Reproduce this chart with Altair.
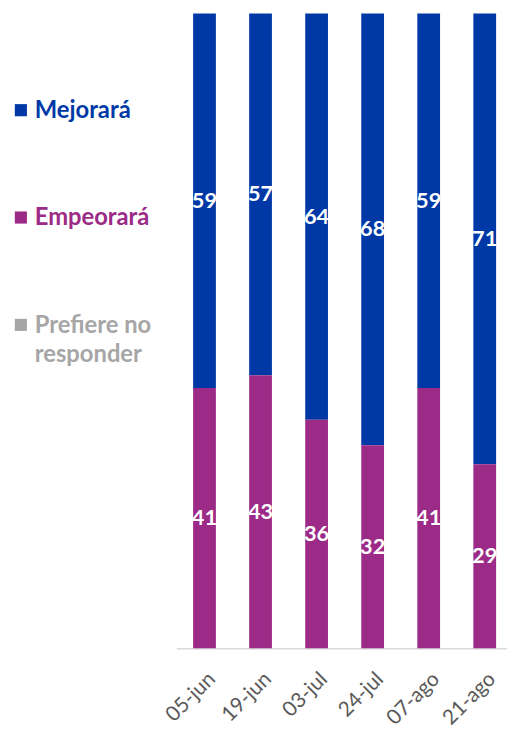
import altair as alt
import pandas as pd

# ---- data ----
dates = ["05-jun", "19-jun", "03-jul", "24-jul", "07-ago", "21-ago"]
categories = ["Mejorará", "Empeorará", "Prefiere no responder"]
legend_text = ["Mejorará", "Empeorará", "Prefiere no\nresponder"]
colors = ["#0039A6", "#9C2A87", "#A6A6A6"]
mejorara = [59, 57, 64, 68, 59, 71]
empeorara = [41, 43, 36, 32, 41, 29]
prefiere = [0, 0, 0, 0, 0, 0]
stack_order = {"Empeorará": 0, "Mejorará": 1, "Prefiere no responder": 2}

FONT = "Lato"

rows = []
for cat, vals in zip(categories, [mejorara, empeorara, prefiere]):
    for d, v in zip(dates, vals):
        rows.append({"date": d, "category": cat, "value": v, "ord": stack_order[cat]})
df = pd.DataFrame(rows)

leg_df = pd.DataFrame({"category": categories, "text": legend_text})

color_scale = alt.Scale(domain=categories, range=colors)

# ---- legend panel ----
leg_base = alt.Chart(leg_df).encode(
    y=alt.Y("category:N", sort=categories, axis=None,
            scale=alt.Scale(padding=0.9)),
    color=alt.Color("category:N", scale=color_scale, legend=None),
)
leg_sq = leg_base.mark_square(size=150, opacity=1, filled=True).encode(x=alt.value(13))
leg_tx = leg_base.mark_text(
    align="left", baseline="alphabetic", dy=8, font=FONT, fontSize=24,
    fontWeight="bold", lineBreak="\n", lineHeight=30
).encode(x=alt.value(27), text="text:N")
legend = (leg_sq + leg_tx).properties(width=170, height=412)

# ---- bars ----
base = alt.Chart(df).transform_stack(
    stack="value", groupby=["date"], as_=["y0", "y1"],
    sort=[alt.SortField("ord", order="ascending")]
).transform_calculate(mid="(datum.y0 + datum.y1) / 2")

xenc = alt.X(
    "date:N", sort=dates, title=None,
    scale=alt.Scale(paddingInner=0.594, paddingOuter=0.247, align=0.607),
    axis=alt.Axis(labelAngle=-45, ticks=False, domainColor="#D9D9D9",
                  domainWidth=1.5, labelFont=FONT, labelFontSize=21,
                  labelColor="#595959", labelPadding=20),
)
yscale = alt.Scale(domain=[0, 100])

bars = base.mark_bar().encode(
    x=xenc,
    y=alt.Y("y0:Q", scale=yscale, axis=None),
    y2="y1:Q",
    color=alt.Color("category:N", scale=color_scale, legend=None),
)
labels = base.transform_filter("datum.value > 0").mark_text(
    color="white", font=FONT, fontWeight="bold", fontSize=22, baseline="middle"
).encode(
    x=xenc,
    y=alt.Y("mid:Q", scale=yscale, axis=None),
    text="value:Q",
)
plot = (bars + labels).properties(width=334, height=641)

chart = alt.hconcat(legend, plot, spacing=0, bounds="flush").properties(
    padding={"left": 0, "top": 2, "right": 0, "bottom": 0}
).configure_view(stroke=None)

chart.save("out.html", embed_options={"renderer": "svg", "actions": False})
